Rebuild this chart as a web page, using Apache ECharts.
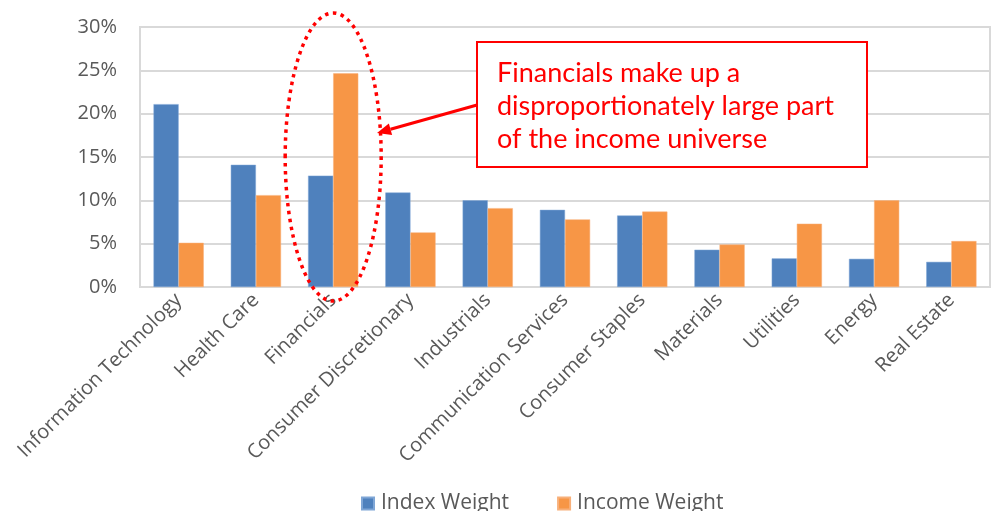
<!DOCTYPE html>
<html>
<head>
<meta charset="utf-8">
<script src="https://cdn.jsdelivr.net/npm/echarts@6/dist/echarts.min.js"></script>
<style>
html,body{margin:0;padding:0;background:#fff;}
#c{width:996px;height:511px;}
</style>
</head>
<body>
<div id="c"></div>
<script>
const categories = ["Information Technology","Health Care","Financials","Consumer Discretionary","Industrials","Communication Services","Consumer Staples","Materials","Utilities","Energy","Real Estate"];
const indexWeight = [21.1, 14.1, 12.85, 10.9, 10.0, 8.9, 8.25, 4.3, 3.3, 3.25, 2.9];
const incomeWeight = [5.1, 10.6, 24.65, 6.3, 9.1, 7.8, 8.7, 4.9, 7.3, 10.0, 5.3];
const yTicks = [0, 5, 10, 15, 20, 25, 30];
const seriesNames = ["Index Weight", "Income Weight"];
const annotationLines = ["Financials make up a", "disproportionately large part", "of the income universe"];

const FONT = "Open Sans";
const chart = echarts.init(document.getElementById('c'));
chart.setOption({
  animation: false,
  textStyle: {fontFamily: FONT},
  grid: {left: 140, right: 6, top: 27, bottom: 224, show: true, borderColor: '#D9D9D9', borderWidth: 2, containLabel: false},
  legend: {
    top: 488, left: 356, itemWidth: 12, itemHeight: 12, itemGap: 48,
    icon: 'rect',
    textStyle: {fontSize: 21, color: '#595959', fontFamily: FONT, padding: [0, 0, 0, 2]},
    data: seriesNames
  },
  xAxis: {
    type: 'category', data: categories,
    axisLine: {show: true, lineStyle: {color: '#D9D9D9', width: 2}},
    axisTick: {show: false},
    axisLabel: {rotate: 45, interval: 0, fontSize: 20, color: '#595959', margin: 10, fontFamily: FONT}
  },
  yAxis: {
    type: 'value', min: yTicks[0], max: yTicks[yTicks.length-1], interval: 5,
    axisLine: {show: false}, axisTick: {show: false},
    axisLabel: {formatter: v => v + '%', fontSize: 20, color: '#595959', margin: 23, fontFamily: FONT},
    splitLine: {lineStyle: {color: '#D9D9D9', width: 2}}
  },
  series: [
    {name: seriesNames[0], type: 'bar', data: indexWeight, barGap: '0%', barCategoryGap: '35%',
     itemStyle: {color: '#4F81BD', borderColor: '#7FA6D6', borderWidth: 0.5}},
    {name: seriesNames[1], type: 'bar', data: incomeWeight,
     itemStyle: {color: '#F79646', borderColor: '#F8B07A', borderWidth: 0.5}}
  ]
});

// annotations
const fin = chart.convertToPixel({xAxisIndex: 0}, 'Financials');
const g = [];
g.push({type: 'ellipse', shape: {cx: fin, cy: 157, rx: 48, ry: 144}, z: 100,
  style: {fill: 'none', stroke: '#FF0000', lineWidth: 3.5, lineDash: [3.5, 4.5]}});
g.push({type: 'rect', shape: {x: 477, y: 42, width: 390, height: 125}, z: 100,
  style: {fill: '#fff', stroke: '#FF0000', lineWidth: 2}});
annotationLines.forEach((t, i) => {
  g.push({type: 'text', x: 497, y: 73 + i * 33, z: 101,
    style: {text: t, fill: '#FF0000', font: '27px Lato', textVerticalAlign: 'middle', verticalAlign: 'middle'}});
});
// arrow
const ax0 = 477, ay0 = 105, ax1 = 377, ay1 = 133;
const ang = Math.atan2(ay1 - ay0, ax1 - ax0);
const hl = 14, hw = 6;
const bx = ax1 - hl * Math.cos(ang), by = ay1 - hl * Math.sin(ang);
g.push({type: 'line', shape: {x1: ax0, y1: ay0, x2: bx, y2: by}, z: 100, style: {stroke: '#FF0000', lineWidth: 3}});
g.push({type: 'polygon', z: 100, shape: {points: [[ax1, ay1],
  [bx - hw * Math.sin(ang), by + hw * Math.cos(ang)],
  [bx + hw * Math.sin(ang), by - hw * Math.cos(ang)]]}, style: {fill: '#FF0000'}});
chart.setOption({graphic: g});
</script>
</body>
</html>
